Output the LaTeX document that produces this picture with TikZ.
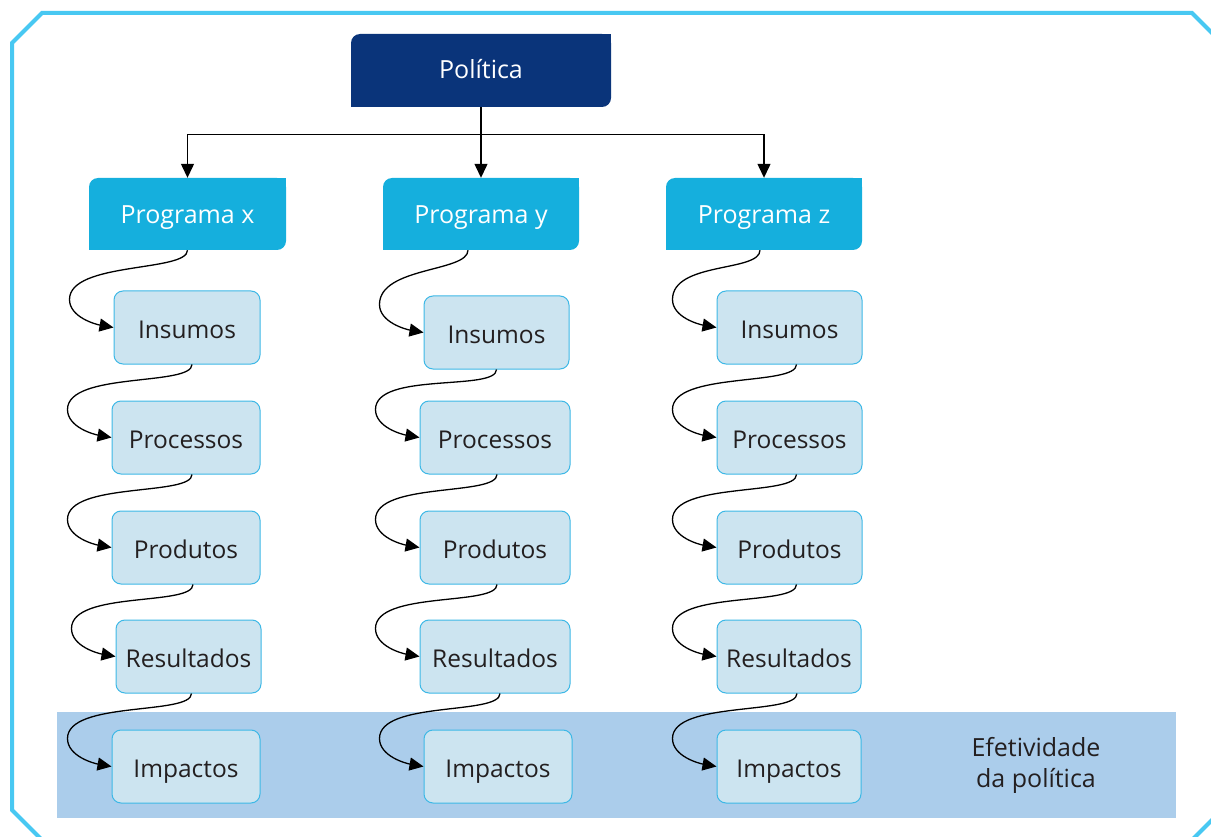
\documentclass[tikz,border=0pt]{standalone}
\usepackage{fontspec}
\setmainfont{Open Sans}
\usetikzlibrary{arrows.meta,calc}
\definecolor{framecol}{HTML}{48C8F2}
\definecolor{polcol}{HTML}{0A347A}
\definecolor{progcol}{HTML}{15AFDD}
\definecolor{boxfill}{HTML}{CCE4F0}
\definecolor{boxline}{HTML}{3DB8E6}
\definecolor{bandcol}{HTML}{ABCDEB}
\definecolor{txt}{HTML}{231F20}
\tikzset{
  conn/.style={draw=black, line width=1.3pt, -{Triangle[length=14pt,width=13pt]}},
  plain/.style={draw=black, line width=1.3pt},
  polbox/.style={fill=polcol, rounded corners=9pt, text=white, inner sep=0pt,
    minimum height=73pt, text height=15.5pt, text depth=0pt, font=\fontsize{25}{30}\selectfont},
  progbox/.style={fill=progcol, rounded corners=9pt, text=white, inner sep=0pt,
    minimum height=72pt, text height=20pt, text depth=0pt, font=\fontsize{25}{30}\selectfont},
  stagebox/.style={fill=boxfill, draw=boxline, line width=1pt, rounded corners=9pt,
    text=txt, inner sep=0pt, minimum height=73pt, text height=21pt, text depth=0pt,
    font=\fontsize{24.5}{29}\selectfont},
  bandtext/.style={text=txt, align=center, font=\fontsize{25}{31}\selectfont}
}
\newcommand\link[3]{\draw[conn] ([xshift=#3pt]#1.south) .. controls +(0,22) and +(0,-38) .. ([xshift=-44pt,yshift=28pt]#2.west) .. controls +(0,18) and +(-17,-3) .. (#2.west);}
\newcommand\squarecorners[2]{\fill[#2] (#1.north east) rectangle ++(-12,12); \fill[#2] (#1.south west) rectangle ++(12,-12);}
\begin{document}
\begin{tikzpicture}[x=1pt,y=-1pt]
\useasboundingbox (0,0) rectangle (1211,837);
\clip (0,0) rectangle (1211,837);
% band
\fill[bandcol] (57,712) rectangle (1176,818);
\node[bandtext] (efet) at (1036,765) {Efetividade\\da política};
% frame
\draw[framecol, line width=4pt] (42,13) -- (1192,13) -- (1222,43) -- (1222,810) -- (1192,840) -- (42,840) -- (12,810) -- (12,43) -- cycle;
% headers
\node[polbox, minimum width=260pt] (pol) at (481,70.5) {Política};
\squarecorners{pol}{polcol}
\node[progbox, minimum width=197pt] (px) at (187.5,214) {Programa x};
\node[progbox, minimum width=196pt] (py) at (481,214) {Programa y};
\node[progbox, minimum width=196pt] (pz) at (764,214) {Programa z};
\squarecorners{px}{progcol}
\squarecorners{py}{progcol}
\squarecorners{pz}{progcol}
% column x
\node[stagebox, minimum width=146pt] (xi) at (187,327.5) {Insumos};
\node[stagebox, minimum width=148pt] (xp) at (186,437.5) {Processos};
\node[stagebox, minimum width=148pt] (xo) at (186,547.5) {Produtos};
\node[stagebox, minimum width=145pt] (xr) at (188.5,656.5) {Resultados};
\node[stagebox, minimum width=148pt] (xm) at (186,766.5) {Impactos};
% column y
\node[stagebox, minimum width=145pt] (yi) at (496.5,332.5) {Insumos};
\node[stagebox, minimum width=150pt] (yp) at (495,437.5) {Processos};
\node[stagebox, minimum width=150pt] (yo) at (495,547.5) {Produtos};
\node[stagebox, minimum width=150pt] (yr) at (495,656.5) {Resultados};
\node[stagebox, minimum width=148pt] (ym) at (498,766.5) {Impactos};
% column z
\node[stagebox, minimum width=145pt] (zi) at (789.5,327.5) {Insumos};
\node[stagebox, minimum width=145pt] (zp) at (789.5,437.5) {Processos};
\node[stagebox, minimum width=145pt] (zo) at (789.5,547.5) {Produtos};
\node[stagebox, minimum width=144pt] (zr) at (789,656.5) {Resultados};
\node[stagebox, minimum width=144pt] (zm) at (789,766.5) {Impactos};
% top connectors
\coordinate (bus) at ($(pol.south)+(0,27)$);
\draw[plain] (pol.south) -- (bus);
\draw[conn] (bus) -| (px.north);
\draw[conn] (bus) -| (pz.north);
\draw[conn] (bus) -- (py.north);
% stage links
\link{px}{xi}{0}
\link{xi}{xp}{5}
\link{xp}{xo}{6}
\link{xo}{xr}{7}
\link{xr}{xm}{3}
\link{py}{yi}{-13}
\link{yi}{yp}{0}
\link{yp}{yo}{2}
\link{yo}{yr}{2}
\link{yr}{ym}{5}
\link{pz}{zi}{-4}
\link{zi}{zp}{7}
\link{zp}{zo}{7}
\link{zo}{zr}{7}
\link{zr}{zm}{8}
\end{tikzpicture}
\end{document}
